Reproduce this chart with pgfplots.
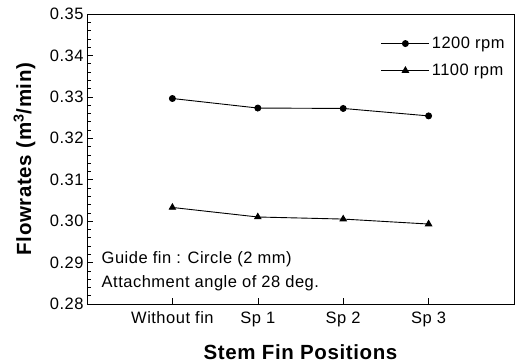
\documentclass[border=0pt]{standalone}
\usepackage{fontspec}
\setmainfont[LetterSpace=3]{Liberation Sans}
\usepackage{pgfplots}
\pgfplotsset{compat=1.18}
\begin{document}
\begin{tikzpicture}
\begin{axis}[
  name=ax,
  scale only axis,
  width=427pt, height=290pt,
  xmin=-1, xmax=4,
  ymin=0.28, ymax=0.35,
  xtick={0,1,2,3},
  xticklabels={Without fin, Sp 1, Sp 2, Sp 3},
  ytick={0.28,0.29,0.30,0.31,0.32,0.33,0.34,0.35},
  minor y tick num=4,
  xtick pos=bottom, ytick pos=left,
  tick align=inside,
  major tick length=6pt, minor tick length=3.5pt,
  tick style={black, line width=0.6pt},
  axis line style={line width=0.8pt},
  /pgf/number format/assume math mode=true,
  yticklabel style={/pgf/number format/fixed, /pgf/number format/fixed zerofill, /pgf/number format/precision=2, font=\fontsize{16.5}{19}\selectfont},
  xticklabel style={font=\fontsize{16.5}{19}\selectfont, yshift=-4pt},
  scaled y ticks=false,
  ylabel={\bfseries Flowrates (m\textsuperscript{3}/min)},
  xlabel={\bfseries Stem Fin Positions},
  label style={font=\fontsize{20.5}{23}\selectfont},
  ylabel style={at={(rel axis cs:0,0.5)}, anchor=south, yshift=48pt},
  xlabel style={at={(rel axis cs:0.5,0)}, anchor=center, yshift=-48pt},
  legend style={draw=none, fill=none, at={(rel axis cs:0.99,0.935)}, anchor=north east,
    font=\fontsize{16.5}{19}\selectfont, row sep=10pt, cells={anchor=west}},
  legend image code/.code={\draw[mark repeat=2,mark phase=2] plot coordinates {(0pt,0pt)(24pt,0pt)(48pt,0pt)};},
]
\addplot[black, line width=0.9pt, mark=*, mark size=3pt] coordinates {(0,0.3296) (1,0.3273) (2,0.3272) (3,0.3254)};
\addlegendentry{1200 rpm}
\addplot[black, line width=0.9pt, mark=triangle*, mark size=3.6pt] coordinates {(0,0.3033) (1,0.3010) (2,0.3005) (3,0.2993)};
\addlegendentry{1100 rpm}
\node[anchor=west, font=\fontsize{16.5}{19}\selectfont, inner sep=0pt] at (axis cs:-0.83,0.2909) {Guide fin : Circle (2 mm)};
\node[anchor=west, font=\fontsize{16.5}{19}\selectfont, inner sep=0pt] at (axis cs:-0.83,0.2851) {Attachment angle of 28 deg.};
\end{axis}
\pgfresetboundingbox
\path (ax.south west) ++(-87pt,-60pt) coordinate (bl);
\path (ax.north east) ++(3pt,14pt) coordinate (tr);
\path (bl) rectangle (tr);
\end{tikzpicture}
\end{document}
